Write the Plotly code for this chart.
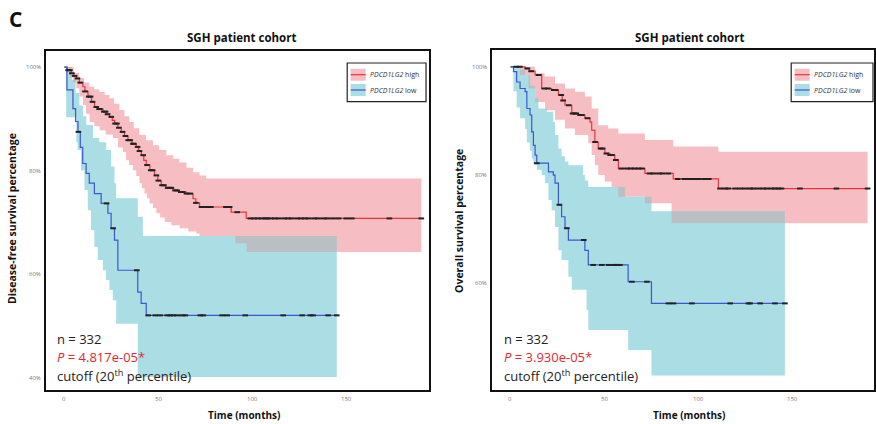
import plotly.graph_objects as go

# ---------------- data ----------------
# Left panel: disease-free survival, PDCD1LG2 high
dfs_high_t = [0, 1.5, 3.7, 5, 6.4, 8, 9.9, 11, 12.6, 14.5, 16.1, 18, 20.6, 22.5, 24.1, 25.5, 26.8, 28.5,
              30.3, 32, 33.9, 36, 38.3, 39.5, 41, 42.3, 43.6, 45.5, 48, 49.8, 51.6, 54, 57.8, 61, 64.9,
              68.5, 70, 72, 88.8, 96.8]
dfs_high_s = [100, 99.4, 98.8, 98.3, 97.8, 97.0, 96.2, 95.3, 94.3, 93.3, 92.3, 91.9, 91.4, 90.9, 90.4,
              89.7, 89.1, 88.3, 87.5, 86.7, 85.9, 85.2, 84.6, 83.8, 83.0, 82.0, 81.1, 80.1, 79.1, 78.1,
              77.2, 76.7, 76.2, 75.9, 75.6, 74.6, 73.8, 73.0, 72.0, 70.8]
dfs_high_end = 190
dfs_high_up_t = [0, 5, 8, 10.5, 13.3, 16, 18.6, 21.5, 24, 26.5, 29.3, 32, 34.6, 37, 39.9, 43.5, 47.2,
                 50.5, 54.3, 58, 61.2, 65, 68.5, 72, 75.5]
dfs_high_up_v = [100, 98.9, 97.9, 97.0, 96.2, 95.7, 95.2, 94.6, 94.0, 92.9, 91.7, 90.5, 89.4, 88.2, 86.9,
                 85.9, 84.9, 84.0, 83.0, 82.3, 81.6, 80.6, 79.7, 79.1, 78.5]
dfs_high_lo_t = [0, 1.5, 3, 4.5, 6.4, 8, 9.9, 11.5, 13.5, 16, 18.8, 22, 25.9, 28.5, 31.2, 32.9, 34.5,
                 36.5, 38.3, 40, 41.3, 42.7, 44, 45.4, 47.2, 49, 51, 53.4, 57, 61.4, 66, 70.3, 72, 91, 97]
dfs_high_lo_v = [100, 99, 98, 97, 95.9, 94.3, 92.7, 91.0, 89.4, 88.6, 87.8, 87.0, 86.3, 84.5, 83.6, 82.0,
                 81.1, 80.1, 79.0, 77.6, 76.6, 75.6, 74.7, 73.7, 72.8, 71.8, 71.0, 70.1, 69.5, 68.9, 68.3,
                 67.9, 67.3, 66.0, 64.3]
dfs_high_cens = [2, 3, 4, 5.5, 7, 8.5, 11, 13, 14, 15, 17, 18.5, 19, 21, 22, 23, 25, 27, 28, 29, 31, 32.5,
                 34, 35, 36.5, 37, 39, 40, 42, 44, 46, 47, 49, 50, 52, 53, 55, 56, 57, 59, 60, 62, 63, 65,
                 67, 70, 73, 75, 76, 78, 86, 88, 92, 99, 101, 103, 105, 107, 108, 110, 112, 114, 117,
                 119, 121, 124, 126, 128, 130, 133, 135, 138, 140, 143, 146, 150, 153, 173, 190]

# Left panel: PDCD1LG2 low
dfs_low_t = [0, 1.4, 4.6, 6.0, 7.3, 8.5, 9.8, 11.6, 13.3, 16.0, 19.6, 23.2, 24.9, 26.7, 28.5, 39.1, 40.9, 43.6]
dfs_low_s = [100, 95.6, 92.0, 89.5, 87.5, 84.5, 81.4, 79.5, 77.6, 75.6, 73.7, 71.8, 68.9, 66.6, 60.8,
             56.6, 54.4, 52.1]
dfs_low_end = 145
dfs_low_up_t = [0, 4, 6, 8, 10, 11.7, 15.3, 18.6, 22.3, 24.9, 26.7, 27.6, 39.1, 41.8]
dfs_low_up_v = [100, 97.5, 95, 92.6, 90.5, 88.8, 86.3, 85.5, 84.0, 80.8, 77.6, 74.7, 71.1, 67.4]
dfs_low_lo_t = [0, 1, 6.4, 7.1, 8.9, 10.7, 12.5, 14.2, 16, 17.8, 20.5, 22.2, 24, 25.8, 27.6, 39.1]
dfs_low_lo_v = [100, 90.3, 85.5, 84.0, 80.1, 76.3, 72.4, 68.5, 65.3, 62.8, 60.8, 58.9, 57.0, 55.0, 50.5, 40.2]
dfs_low_cens = [7.5, 22.5, 26, 38.6, 44.7, 48.4, 51, 54.8, 56.4, 58, 60, 62.8, 64.4, 72.4, 74, 84, 86.7,
                96.3, 116.5, 126.6, 130.9, 132.4, 140.4, 145]

# Right panel: overall survival, PDCD1LG2 high
os_high_t = [0, 7.8, 10, 13.1, 16.6, 21.9, 25.5, 27.5, 29, 32.6, 36.1, 39.6, 42.3, 43.2, 44.9, 46.7,
             50.2, 52.9, 55.5, 57.4, 71.5, 86.6, 110.6]
os_high_s = [100, 99.7, 99.2, 98.5, 96.0, 95.7, 94.8, 93.8, 92.9, 91.4, 91.1, 90.5, 89.8, 88.3, 86.1,
             84.9, 84.0, 83.7, 82.8, 81.2, 80.3, 79.3, 77.5]
os_high_end = 190
os_high_up_t = [0, 13, 18.2, 23.7, 29, 34.3, 39.6, 43.2, 46.7, 52, 57.4, 71.5, 86.6, 110.6]
os_high_up_v = [100, 98.8, 98.2, 96.9, 96.0, 95.4, 94.5, 92.3, 89.2, 88.6, 87.7, 86.5, 85.3, 84.3]
os_high_lo_t = [0, 5, 9.6, 13.1, 18.4, 23.7, 29, 34.3, 41.4, 43.2, 44.9, 46.7, 50.2, 53.8, 57.3, 71.5, 85.7]
os_high_lo_v = [100, 98.5, 96.0, 93.5, 92.0, 90.2, 88.6, 87.4, 85.9, 83.7, 81.8, 80.0, 78.8, 77.8, 76.0,
                74.8, 71.1]
os_high_cens = [3, 5, 9, 11, 15, 18, 20, 23, 24, 27, 28, 31, 33, 34, 35, 37, 38, 41, 45, 48, 49, 51, 53,
                54, 56, 59, 62, 64, 66, 68, 70, 74, 76, 79, 81, 84, 89, 92.5, 95, 97.5, 100, 103, 105.5,
                111.5, 114.2, 115.9, 119.5, 122.2, 124.8, 127.5, 129.2, 131.9, 134.5, 136.3, 138.9,
                140.7, 142.5, 144.2, 154, 173.4, 190]

# Right panel: PDCD1LG2 low
os_low_t = [0, 1.6, 3.3, 5.1, 7.8, 8.7, 10.4, 11.3, 12.2, 13.1, 14, 20.2, 22.8, 23.7, 25.5, 27.2, 29,
            30.8, 39.6, 41.4, 62.6, 75]
os_low_s = [100, 99.1, 97.2, 96.0, 95.4, 92.3, 91.1, 88.0, 85.5, 83.7, 82.2, 80.6, 80.0, 78.5, 74.5,
            72.3, 70.2, 68.0, 66.1, 63.4, 60.3, 56.3]
os_low_end = 146
os_low_up_t = [0, 5, 7.8, 10.5, 13.1, 14.9, 19.3, 22.8, 23.7, 25.5, 27.2, 29, 30.8, 38.7, 39.6, 41.4, 61, 75]
os_low_up_v = [100, 99.5, 98.5, 96.5, 94.2, 92.3, 91.7, 89.8, 87.4, 84.9, 83.5, 82.5, 81.8, 80.0, 79.0,
               77.8, 76.0, 73.3]
os_low_lo_t = [0, 1.6, 3.3, 5.1, 7.8, 8.7, 10.4, 11.3, 12.2, 14, 16.6, 18.4, 20.2, 21.9, 23.7, 25.5,
               27.2, 30.8, 32.6, 40.5, 41.4, 62.6, 75]
os_low_lo_v = [100, 95.5, 92.5, 90.5, 88.5, 86.0, 84.5, 83.0, 82.0, 81.0, 80.0, 78.5, 75.4, 73.5, 70.4,
               66.1, 64.3, 61.2, 58.8, 55.1, 51.4, 47.7, 43.0]
os_low_cens = [14, 26, 30, 39, 44, 48.6, 52.2, 55, 56.4, 58.2, 64.6, 72.6, 84.1, 86.7, 96.5, 116.9,
               126.6, 127.5, 132.8, 140.7, 146]

# Text
panel_letter = "C"
panel_title = "SGH patient cohort"
y_titles = ["Disease-free survival percentage", "Overall survival percentage"]
x_title = "Time (months)"
n_text = "n = 332"
p_values = ["4.817e-05", "3.930e-05"]
cutoff_text = "cutoff (20<sup>th</sup> percentile)"
gene = "PDCD1LG2"
group_names = ["high", "low"]
x_ticks = [0, 50, 100, 150]
y_ticks = [40, 60, 80, 100]

# ---------------- style ----------------
W, H = 876, 424
FONT = "Open Sans"
PINK = "#F6BEC3"
CYAN = "#ABDDE5"
GRAY = "#BABFC3"
RED = "#E5353D"
BLUE = "#3B57CF"
CENS = "#222222"


def px(x):
    return x / W


def py(y):
    return 1 - y / H


def step_val(ts, vs, t):
    v = vs[0]
    for ti, vi in zip(ts, vs):
        if ti <= t:
            v = vi
        else:
            break
    return v


def ext(ts, vs, end):
    return list(ts) + [end], list(vs) + [vs[-1]]


panels = [
    dict(xa="x", ya="y", xdom=(46, 430), ydom=(51, 390), xr=[-9.8, 194.1], yr=[37.7, 103.1],
         high=(dfs_high_t, dfs_high_s, dfs_high_end, dfs_high_up_t, dfs_high_up_v, dfs_high_lo_t,
               dfs_high_lo_v, dfs_high_cens),
         low=(dfs_low_t, dfs_low_s, dfs_low_end, dfs_low_up_t, dfs_low_up_v, dfs_low_lo_t,
              dfs_low_lo_v, dfs_low_cens),
         title_x=242, ytitle_x=12, xtitle_x=245, text_x=55, leg=(348, 427), p=p_values[0],
         ytitle=y_titles[0], ytitle_y=218),
    dict(xa="x2", ya="y2", xdom=(493, 876), ydom=(49.5, 390), xr=[-9.9, 193.4], yr=[40.3, 103.2],
         high=(os_high_t, os_high_s, os_high_end, os_high_up_t, os_high_up_v, os_high_lo_t,
               os_high_lo_v, os_high_cens),
         low=(os_low_t, os_low_s, os_low_end, os_low_up_t, os_low_up_v, os_low_lo_t,
              os_low_lo_v, os_low_cens),
         title_x=691, ytitle_x=460, xtitle_x=691, text_x=503, leg=(793, 875), p=p_values[1],
         ytitle=y_titles[1], ytitle_y=221),
]

fig = go.Figure()
shapes = []
annotations = []

for pn in panels:
    xa, ya = pn["xa"], pn["ya"]
    bands = []
    for grp, fillc in ((pn["high"], PINK), (pn["low"], CYAN)):
        t, s, end, ut, uv, lt, lv, cens = grp
        lx, ly = ext(lt, lv, end)
        ux, uy = ext(ut, uv, end)
        fig.add_trace(go.Scatter(x=lx, y=ly, mode="lines", line=dict(width=0, shape="hv"),
                                 xaxis=xa, yaxis=ya, hoverinfo="skip", showlegend=False))
        fig.add_trace(go.Scatter(x=ux, y=uy, mode="lines", line=dict(width=0, shape="hv"),
                                 fill="tonexty", fillcolor=fillc, xaxis=xa, yaxis=ya,
                                 hoverinfo="skip", showlegend=False))
        bands.append((ut, uv, lt, lv, end))
    # overlap of the two confidence bands (drawn grey)
    (hut, huv, hlt, hlv, hend), (lut, luv, llt, llv, lend) = bands
    common_end = min(hend, lend)
    grid = sorted(set([t for t in hut + hlt + lut + llt if t < common_end]))
    grid.append(common_end)
    ox, oy = [], []
    for i in range(len(grid) - 1):
        t0, t1 = grid[i], grid[i + 1]
        hi = min(step_val(hut, huv, t0), step_val(lut, luv, t0))
        lo = max(step_val(hlt, hlv, t0), step_val(llt, llv, t0))
        if hi > lo:
            ox += [t0, t1, t1, t0, t0, None]
            oy += [lo, lo, hi, hi, lo, None]
    if ox:
        fig.add_trace(go.Scatter(x=ox, y=oy, mode="lines", line=dict(width=0), fill="toself",
                                 fillcolor=GRAY, xaxis=xa, yaxis=ya, hoverinfo="skip",
                                 showlegend=False))
    # survival curves
    for grp, col in ((pn["high"], RED), (pn["low"], BLUE)):
        t, s, end, ut, uv, lt, lv, cens = grp
        cx, cy = ext(t, s, end)
        fig.add_trace(go.Scatter(x=cx, y=cy, mode="lines", line=dict(color=col, width=1.2, shape="hv"),
                                 xaxis=xa, yaxis=ya, hoverinfo="skip", showlegend=False))
    for grp in (pn["high"], pn["low"]):
        t, s, end, ut, uv, lt, lv, cens = grp
        fig.add_trace(go.Scatter(x=cens, y=[step_val(t, s, c) for c in cens], mode="markers",
                                 marker=dict(symbol="line-ew", size=4,
                                             line=dict(width=2, color=CENS)),
                                 xaxis=xa, yaxis=ya, hoverinfo="skip", showlegend=False))

    # tick labels (placed through the axes)
    for v in y_ticks:
        annotations.append(dict(xref="paper", yref=ya, x=px(pn["xdom"][0] - 2.5), y=v,
                                xanchor="right", yanchor="middle", showarrow=False, text=f"{v}%",
                                font=dict(family=FONT, size=6, color="#777")))
    for v in x_ticks:
        annotations.append(dict(xref=xa, yref="paper", x=v, y=py(399),
                                xanchor="center", yanchor="middle", showarrow=False, text=f"{v}",
                                font=dict(family=FONT, size=6, color="#777")))

    # legend box (drawn manually)
    l0, l1 = pn["leg"]
    shapes.append(dict(type="rect", xref="paper", yref="paper", x0=px(l0), x1=px(l1), y0=py(101.7),
                       y1=py(63), line=dict(color="#222", width=1.2), fillcolor="white"))
    for k, (fc, lc, yc) in enumerate(((PINK, RED, 74.7), (CYAN, BLUE, 90))):
        shapes.append(dict(type="rect", xref="paper", yref="paper", x0=px(l0 + 3.5), x1=px(l0 + 18.5),
                           y0=py(yc + 6), y1=py(yc - 6), line=dict(width=0), fillcolor=fc))
        shapes.append(dict(type="line", xref="paper", yref="paper", x0=px(l0 + 3.5), x1=px(l0 + 18.5),
                           y0=py(yc), y1=py(yc), line=dict(width=1.2, color=lc)))
        annotations.append(dict(xref="paper", yref="paper", x=px(l0 + 21), y=py(yc),
                                xanchor="left", yanchor="middle", showarrow=False,
                                text=f"<i>{gene}</i> {group_names[k]}",
                                font=dict(family=FONT, size=7, color="#333")))

    # titles
    annotations.append(dict(xref="paper", yref="paper", x=px(pn["title_x"]), y=py(37),
                            xanchor="center", yanchor="middle", showarrow=False,
                            text=f"<b>{panel_title}</b>", font=dict(family=FONT, size=11.5, color="#111")))
    annotations.append(dict(xref="paper", yref="paper", x=px(pn["ytitle_x"]), y=py(pn["ytitle_y"]),
                            xanchor="center", yanchor="middle", showarrow=False, textangle=-90,
                            text=f"<b>{pn['ytitle']}</b>", font=dict(family=FONT, size=10.5, color="#111")))
    annotations.append(dict(xref="paper", yref="paper", x=px(pn["xtitle_x"]), y=py(415),
                            xanchor="center", yanchor="middle", showarrow=False,
                            text=f"<b>{x_title}</b>", font=dict(family=FONT, size=10, color="#111")))
    # statistics text
    tx = px(pn["text_x"])
    annotations.append(dict(xref="paper", yref="paper", x=tx, y=py(339), xanchor="left",
                            yanchor="middle", showarrow=False, text=n_text,
                            font=dict(family=FONT, size=13, color="#222")))
    annotations.append(dict(xref="paper", yref="paper", x=tx, y=py(357), xanchor="left",
                            yanchor="middle", showarrow=False, text=f"<i>P</i> = {pn['p']}*",
                            font=dict(family=FONT, size=13, color="#E8252D")))
    annotations.append(dict(xref="paper", yref="paper", x=tx, y=py(375), xanchor="left",
                            yanchor="middle", showarrow=False, text=cutoff_text,
                            font=dict(family=FONT, size=13, color="#222")))

annotations.append(dict(xref="paper", yref="paper", x=px(7), y=py(19), xanchor="left", yanchor="middle",
                        showarrow=False, text=f"<b>{panel_letter}</b>",
                        font=dict(family=FONT, size=21, color="#111")))

axis_common = dict(showgrid=False, zeroline=False, showline=True, linecolor="#111", linewidth=2,
                   mirror=True, ticks="", showticklabels=False)

layout = dict(width=W, height=H, margin=dict(l=0, r=0, t=0, b=0), plot_bgcolor="white",
              paper_bgcolor="white", showlegend=False, shapes=shapes, annotations=annotations)
for i, pn in enumerate(panels):
    sfx = "" if i == 0 else str(i + 1)
    layout["xaxis" + sfx] = dict(axis_common, domain=[px(pn["xdom"][0]), px(pn["xdom"][1])],
                                 range=pn["xr"], tickvals=x_ticks, anchor="y" + sfx)
    layout["yaxis" + sfx] = dict(axis_common, domain=[py(pn["ydom"][1]), py(pn["ydom"][0])],
                                 range=pn["yr"], tickvals=y_ticks, anchor="x" + sfx)

fig.update_layout(**layout)
fig.write_html("out.html")
